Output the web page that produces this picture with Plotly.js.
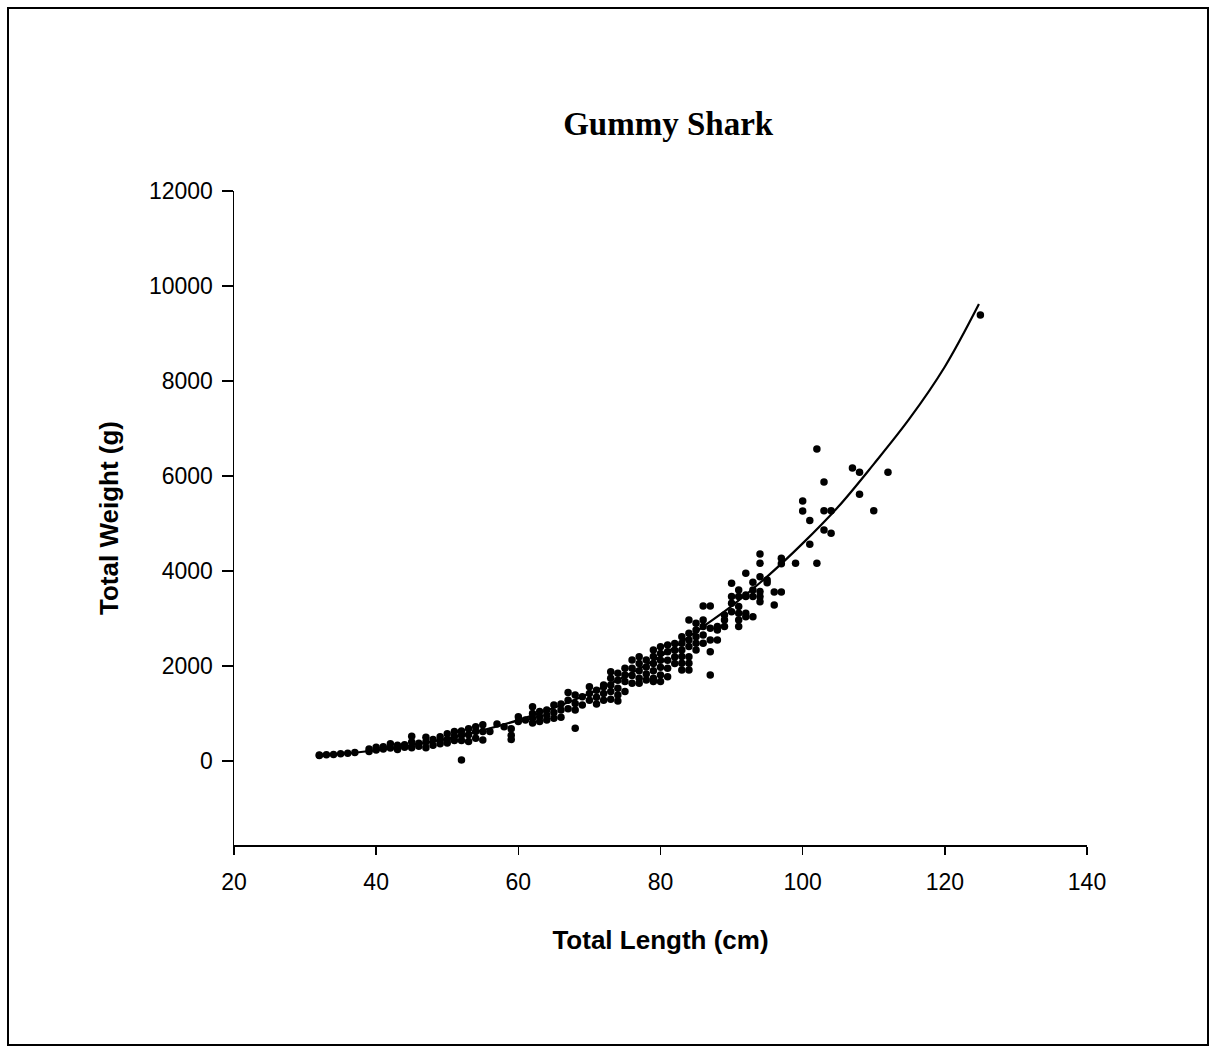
<!DOCTYPE html>
<html>
<head>
<meta charset="utf-8">
<script src="https://cdn.plot.ly/plotly-3.0.1.min.js"></script>
<style>
  html, body { margin: 0; padding: 0; background: #fff; }
  #chart { width: 1213px; height: 1048px; }
</style>
</head>
<body>
<div id="chart"></div>
<script>
// Observed lengths (cm) and weights (g), read column by column
const lengthCm = [
  32,32,33,34,35,36,37,
  39,39,40,40,41,41,42,42,43,43,44,44,45,45,45,46,46,47,47,47,48,48,49,49,49,50,50,50,
  51,51,51,52,52,52,52,53,53,53,54,54,54,55,55,55,56,57,58,59,59,59,60,60,61,
  62,62,62,62,63,63,63,64,64,64,65,65,65,66,66,66,67,67,67,68,68,68,68,69,69,
  70,70,70,71,71,71,72,72,72,72,73,73,73,73,73,74,74,74,74,74,75,75,75,75,
  76,76,76,76,77,77,77,77,77,78,78,78,78,79,79,79,79,79,79,80,80,80,80,80,80,
  81,81,81,81,81,82,82,82,82,83,83,83,83,83,83,84,84,84,84,84,84,84,85,85,85,85,85,
  86,86,86,86,86,87,87,87,87,87,88,88,88,89,89,89,90,90,90,90,91,91,91,91,91,91,
  92,92,92,92,92,93,93,93,93,94,94,94,94,94,94,95,95,96,96,97,97,97,99,
  100,100,101,101,102,102,103,103,103,104,104,107,108,108,110,112,125
];
const weightG = [
  115,125,130,135,150,160,180,
  200,250,230,290,250,300,270,360,240,330,290,340,280,400,520,310,370,280,400,500,330,450,360,430,510,380,450,570,
  430,520,620,20,430,540,630,410,550,680,480,620,720,440,620,760,620,780,720,450,540,680,830,930,860,
  800,900,1000,1140,830,930,1040,860,960,1070,900,1020,1180,920,1070,1200,1100,1280,1440,690,1070,1210,1390,1180,1350,
  1280,1420,1560,1200,1340,1490,1280,1420,1560,1600,1300,1460,1600,1740,1880,1260,1390,1530,1700,1845,1460,1670,1810,1950,
  1635,1800,1950,2125,1635,1740,1900,2050,2195,1705,1830,1980,2125,1670,1740,1900,2050,2200,2335,1670,1810,1970,2120,2260,2405,
  1775,1950,2120,2300,2440,2050,2190,2330,2475,1915,2056,2200,2337,2477,2617,1915,2056,2196,2407,2547,2688,2968,2337,2477,2617,2758,2900,
  2477,2653,2828,2968,3263,1810,2301,2547,2793,3263,2547,2758,2828,2828,2968,3074,3143,3319,3460,3741,2828,2968,3109,3249,3460,3600,
  3038,3109,3460,3495,3951,3038,3460,3600,3762,3354,3460,3565,3880,4162,4357,3810,3750,3284,3558,3558,4150,4270,4162,
  5474,5263,4562,5060,4162,6568,4863,5270,5874,4793,5270,6168,5614,6078,5270,6080,9389
];

// Fitted curve
const fitLength = [32, 40, 50, 60, 70, 80, 86, 90, 95, 100, 105, 110, 115, 120, 124.8];
const fitWeight = [110, 225, 470, 860, 1420, 2200, 2830, 3260, 3880, 4580, 5350, 6250, 7200, 8300, 9620];

const xTicks = [20, 40, 60, 80, 100, 120, 140];
const yTicks = [0, 2000, 4000, 6000, 8000, 10000, 12000];

const traces = [
  {
    x: lengthCm, y: weightG, type: 'scatter', mode: 'markers',
    marker: { color: '#000', size: 7.5 }, name: 'Observed', hoverinfo: 'x+y'
  },
  {
    x: fitLength, y: fitWeight, type: 'scatter', mode: 'lines',
    line: { color: '#000', width: 2.2, shape: 'spline', smoothing: 1 }, name: 'Fit'
  }
];

const axisFont = { family: 'Liberation Sans, Arial, sans-serif', size: 23, color: '#000' };
const titleFont = { family: 'Liberation Sans, Arial, sans-serif', size: 26, color: '#000' };
const layout = {
  width: 1213, height: 1048,
  paper_bgcolor: '#fff', plot_bgcolor: '#fff',
  showlegend: false,
  margin: { l: 234, r: 126, t: 191, b: 203 },
  title: {
    text: '<b>Gummy Shark</b>',
    font: { family: 'Liberation Serif, Times New Roman, serif', size: 33, color: '#000' },
    x: 0.509, xref: 'paper', xanchor: 'center',
    y: 1 - 123 / 1048, yref: 'container', yanchor: 'middle'
  },
  xaxis: {
    range: [20, 140], tickvals: xTicks, ticks: 'outside', ticklen: 8, tickwidth: 1.5,
    tickcolor: '#000', showline: true, linecolor: '#000', linewidth: 1.5,
    showgrid: false, zeroline: false, tickfont: axisFont, ticklabelstandoff: 8,
    title: { text: '<b>Total Length (cm)</b>', standoff: 36, font: titleFont }
  },
  yaxis: {
    range: [-1770, 12000], tickvals: yTicks, tickformat: 'd', ticks: 'outside', ticklen: 11, tickwidth: 1.5,
    tickcolor: '#000', showline: true, linecolor: '#000', linewidth: 1.5,
    showgrid: false, zeroline: false, tickfont: axisFont, ticklabelstandoff: 4,
    title: { text: '<b>Total Weight (g)</b>', standoff: 23, font: titleFont }
  },
  shapes: [{
    type: 'rect', xref: 'paper', yref: 'paper',
    x0: (8 - 234) / 853, x1: (1208 - 234) / 853,
    y0: (845 - 1045) / 654, y1: (845 - 8) / 654,
    line: { color: '#000', width: 2 }, fillcolor: 'rgba(0,0,0,0)', layer: 'below'
  }]
};

Plotly.newPlot('chart', traces, layout, { displayModeBar: false, staticPlot: true });
</script>
</body>
</html>
